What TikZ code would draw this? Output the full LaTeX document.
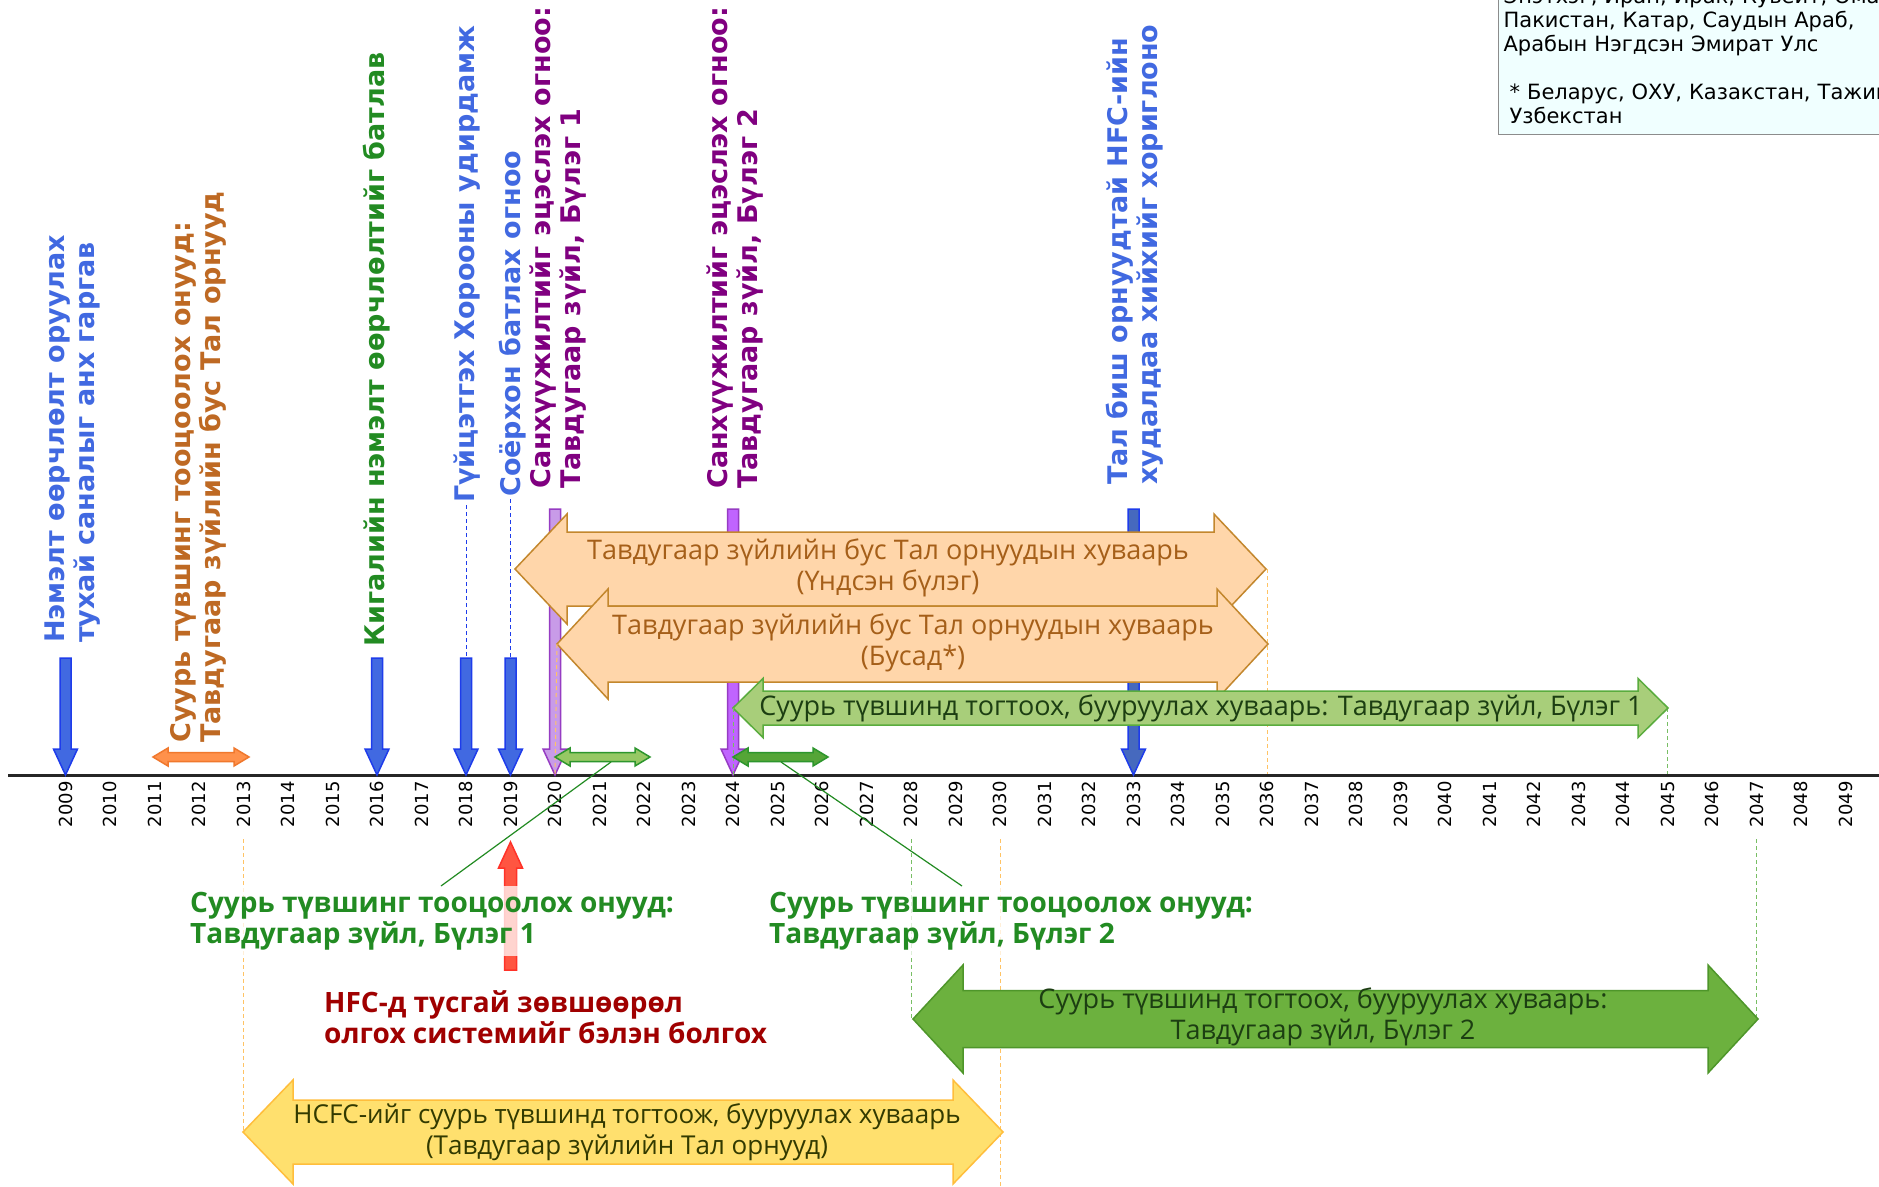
\documentclass[tikz,border=0pt]{standalone}
\usepackage{fontspec}
\setmainfont{DejaVu Sans}
\newfontfamily\boxfont{Open Sans}

\definecolor{bluefill}{RGB}{65,105,225}
\definecolor{bluedraw}{RGB}{30,60,235}
\definecolor{navyfill}{RGB}{70,105,190}
\definecolor{lilac}{RGB}{200,155,232}
\definecolor{violetfill}{RGB}{192,100,255}
\definecolor{violetdraw}{RGB}{150,60,195}
\definecolor{peach}{RGB}{255,214,170}
\definecolor{peachdraw}{RGB}{195,135,45}
\definecolor{peachtext}{RGB}{165,95,25}
\definecolor{lgreen}{RGB}{168,206,122}
\definecolor{lgreendraw}{RGB}{90,172,62}
\definecolor{mgreen}{RGB}{108,177,62}
\definecolor{mgreendraw}{RGB}{78,150,42}
\definecolor{sgreen}{RGB}{150,200,100}
\definecolor{sgreendark}{RGB}{85,165,55}
\definecolor{sgreendraw}{RGB}{45,150,45}
\definecolor{dgreentext}{RGB}{28,62,18}
\definecolor{yell}{RGB}{255,224,110}
\definecolor{yelldraw}{RGB}{255,190,60}
\definecolor{olivetext}{RGB}{50,58,0}
\definecolor{orangefill}{RGB}{255,145,75}
\definecolor{orangedraw}{RGB}{240,120,45}
\definecolor{redfill}{RGB}{255,85,65}
\definecolor{reddraw}{RGB}{255,50,40}
\definecolor{labblue}{RGB}{65,105,225}
\definecolor{labbrown}{RGB}{190,105,35}
\definecolor{labgreen}{RGB}{34,139,34}
\definecolor{labpurple}{RGB}{128,0,128}
\definecolor{labred}{RGB}{160,0,0}
\definecolor{legfill}{RGB}{240,255,255}
\definecolor{guideorange}{RGB}{255,195,100}
\definecolor{guidegreen}{RGB}{120,190,100}

% [style]{x}{y base}{y tip}{half shaft}{half head}{head length}
\newcommand{\vertarrow}[7][]{%
  \draw[#1] ({#2-#5},#3) -- ({#2+#5},#3) -- ({#2+#5},{#4-#7}) -- ({#2+#6},{#4-#7})
    -- (#2,#4) -- ({#2-#6},{#4-#7}) -- ({#2-#5},{#4-#7}) -- cycle;}
% [style]{x left}{x right}{y}{half shaft}{half head}{head length}
\newcommand{\dblarrow}[7][]{%
  \draw[#1] (#2,#4) -- ({#2+#7},{#4-#6}) -- ({#2+#7},{#4-#5}) -- ({#3-#7},{#4-#5})
    -- ({#3-#7},{#4-#6}) -- (#3,#4) -- ({#3-#7},{#4+#6}) -- ({#3-#7},{#4+#5})
    -- ({#2+#7},{#4+#5}) -- ({#2+#7},{#4+#6}) -- cycle;}

\begin{document}
\begin{tikzpicture}
  [x=1pt,y=-1pt,
   tick/.style={rotate=90,anchor=east,inner sep=0pt,font=\fontsize{18}{22}\selectfont},
   vlab/.style={rotate=90,anchor=west,inner sep=0pt,align=left,font=\fontsize{27}{30}\selectfont\bfseries},
   blab/.style={anchor=north west,inner sep=6pt,align=left,fill=white,fill opacity=.75,text opacity=1,
     font=\boxfont\fontsize{28}{31}\selectfont\bfseries},
   boxtxt/.style={align=center,inner sep=0pt,font=\boxfont\fontsize{27}{31}\selectfont},
   guide/.style={line width=1pt,dash pattern=on 4pt off 3pt},
   leader/.style={line width=1.2pt,labgreen},
   axis/.style={line width=3pt,black!85},
   bluearr/.style={fill=bluefill,draw=bluedraw,line width=1.5pt},
   arrowshape/.style={line width=1.5pt}]
  \useasboundingbox (0,0) rectangle (1879,1186);
  \clip (0,0) rectangle (1879,1186);
  \fill[white] (0,0) rectangle (1879,1186);

  % guide lines
  \draw[guide,guideorange] (1267,569) -- (1267,775);
  \draw[guide,guidegreen] (1667.5,708) -- (1667.5,775);
  \draw[guide,bluedraw] (466,505) -- (466,658);
  \draw[guide,bluedraw] (510.5,499) -- (510.5,658);
  \draw[guide,guideorange] (243.5,839) -- (243.5,1132);
  \draw[guide,guideorange] (1000,839) -- (1000,1186);
  \draw[guide,guidegreen] (911,839) -- (911,1019);
  \draw[guide,guidegreen] (1756.5,839) -- (1756.5,1019);

  % time axis
  \draw[axis] (8,775) -- (1879,775);
  \foreach \yr [count=\i from 0] in {2009,...,2049}
    \node[tick] (t\yr) at ({65.5+44.5*\i},781) {\yr};

  % milestones
  \vertarrow[arrowshape,fill=lilac,draw=violetdraw]{555}{509}{775}{5.5}{12}{26}
  \vertarrow[arrowshape,fill=violetfill,draw=violetdraw]{733}{509}{775}{5.5}{12}{26}
  \vertarrow[arrowshape,fill=navyfill,draw=bluedraw]{1133.5}{509}{775}{5.5}{12}{26}
  \foreach \x in {65.5,377,466,510.5}
    {\vertarrow[bluearr]{\x}{658}{775}{5.5}{12}{26}}

  % schedules
  \dblarrow[arrowshape,fill=peach,draw=peachdraw]{515}{1266}{569}{37}{55}{52}
  \dblarrow[arrowshape,fill=peach,draw=peachdraw]{557}{1268}{644}{38}{55}{51}
  \draw[guide,guideorange] (557,644) -- (555,775);
  \dblarrow[arrowshape,fill=lgreen,draw=lgreendraw]{733}{1668}{708}{17}{29.5}{30}
  \draw[guide,guidegreen] (733,708) -- (733,775);
  \dblarrow[arrowshape,fill=orangefill,draw=orangedraw]{153}{249}{757}{4.5}{9}{15}
  \dblarrow[arrowshape,fill=sgreen,draw=sgreendraw]{555}{650}{757}{4.5}{9}{15}
  \dblarrow[arrowshape,fill=sgreendark,draw=sgreendraw]{733}{828}{757}{4.5}{9}{15}
  \dblarrow[arrowshape,fill=mgreen,draw=mgreendraw]{913}{1758}{1019}{28.5}{54}{50}
  \dblarrow[arrowshape,fill=yell,draw=yelldraw]{243}{1003}{1132}{32}{52}{50}
  \coordinate (base1) at (611,762);
  \coordinate (base2) at (781,762);

  \node[boxtxt,text=peachtext] (main) at (888,568)
    {Тавдугаар зүйлийн бус Тал орнуудын хуваарь\\(Үндсэн бүлэг)};
  \node[boxtxt,text=peachtext] (other) at (913,643)
    {Тавдугаар зүйлийн бус Тал орнуудын хуваарь\\(Бусад*)};
  \node[boxtxt,text=dgreentext] (grp1) at (1201,708)
    {Суурь түвшинд тогтоох, бууруулах хуваарь: Тавдугаар зүйл, Бүлэг 1};
  \node[boxtxt,text=dgreentext] (grp2) at (1323,1017)
    {Суурь түвшинд тогтоох, бууруулах хуваарь:\\Тавдугаар зүйл, Бүлэг 2};
  \node[boxtxt,text=olivetext,font=\boxfont\fontsize{26}{31}\selectfont] (hcfc) at (627,1132)
    {HCFC-ийг суурь түвшинд тогтоож, бууруулах хуваарь\\(Тавдугаар зүйлийн Тал орнууд)};

  % vertical labels
  \node[vlab,text=labblue] (v2009) at (73,643) {Нэмэлт өөрчлөлт оруулах\\тухай саналыг анх гаргав};
  \node[vlab,text=labbrown] (v2012) at (198,743) {Суурь түвшинг тооцоолох онууд:\\Тавдугаар зүйлийн бус Тал орнууд};
  \node[vlab,text=labgreen] (v2016) at (377,647) {Кигалийн нэмэлт өөрчлөлтийг батлав};
  \node[vlab,text=labblue] (v2018) at (467,503) {Гүйцэтгэх Хорооны удирдамж};
  \node[vlab,text=labblue] (v2019) at (513,497) {Соёрхон батлах огноо};
  \node[vlab,text=labpurple] (v2020) at (558,489) {Санхүүжилтийг эцэслэх огноо:\\Тавдугаар зүйл, Бүлэг 1};
  \node[vlab,text=labpurple] (v2024) at (735,489) {Санхүүжилтийг эцэслэх огноо:\\Тавдугаар зүйл, Бүлэг 2};
  \node[vlab,text=labblue] (v2033) at (1135,485) {Тал биш орнуудтай HFC-ийн\\худалдаа хийхийг хориглоно};

  % below the axis
  \vertarrow[arrowshape,fill=redfill,draw=reddraw]{510.5}{970}{842}{6}{12}{-26}
  \node[blab,text=labgreen] (bl1) at (184,886) {Суурь түвшинг тооцоолох онууд:\\Тавдугаар зүйл, Бүлэг 1};
  \node[blab,text=labgreen] (bl2) at (763,886) {Суурь түвшинг тооцоолох онууд:\\Тавдугаар зүйл, Бүлэг 2};
  \node[blab,text=labred] (hfc) at (318,984) {HFC-д тусгай зөвшөөрөл\\олгох системийг бэлэн болгох};
  \draw[leader] (441,0 |- bl1.north) -- (base1);
  \draw[leader] (962,0 |- bl2.north) -- (base2);

  % legend
  \node[anchor=south west,draw=black!45,fill=legfill,line width=1.2pt,inner xsep=5pt,inner ysep=11pt,
    text width=640pt,align=left,font=\fontsize{21}{24}\selectfont] (legend) at (1498,135)
    {Энэтхэг, Иран, Ирак, Кувейт, Оман,\\Пакистан, Катар, Саудын Араб,\\Арабын Нэгдсэн Эмират Улс\\[24pt]
     \hspace*{6pt}* Беларус, ОХУ, Казакстан, Тажикистан,\\\hspace*{6pt}Узбекстан};
\end{tikzpicture}
\end{document}
